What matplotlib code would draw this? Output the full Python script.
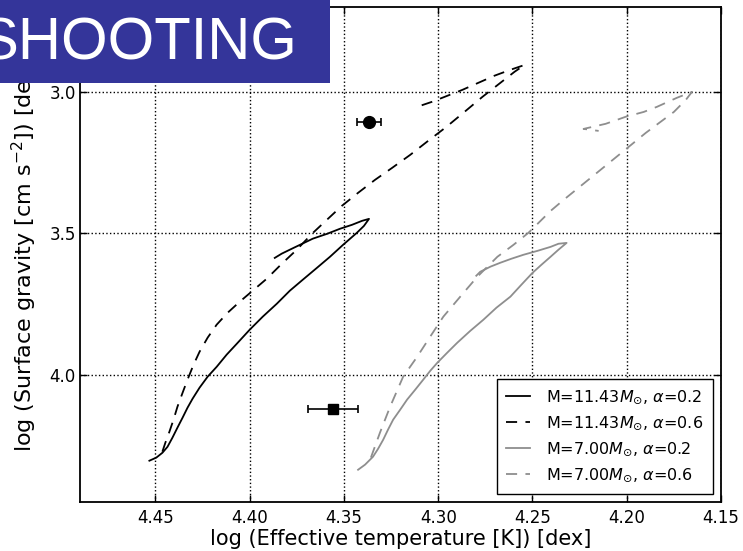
import numpy as np
import matplotlib
matplotlib.use('Agg')
import matplotlib.pyplot as plt
from matplotlib.patches import Rectangle

# track data, log Teff / log g
# M=11.43, alpha=0.2
teff_m11_a02 = [4.4532, 4.4495, 4.4463, 4.4436, 4.4410, 4.4383, 4.4356, 4.4330, 4.4303,
                4.4266, 4.4223, 4.4175, 4.4122, 4.4069, 4.4000, 4.3931, 4.3856, 4.3787,
                4.3718, 4.3643, 4.3574, 4.3505, 4.3431, 4.3394, 4.3367, 4.3404, 4.3457,
                4.3521, 4.3590, 4.3665, 4.3734, 4.3787, 4.3830, 4.3867]
logg_m11_a02 = [4.304, 4.293, 4.276, 4.255, 4.223, 4.187, 4.152, 4.117, 4.085,
                4.046, 4.007, 3.972, 3.929, 3.891, 3.841, 3.795, 3.749, 3.703,
                3.664, 3.622, 3.583, 3.541, 3.498, 3.474, 3.449, 3.456, 3.470,
                3.484, 3.502, 3.519, 3.541, 3.558, 3.572, 3.587]

# M=11.43, alpha=0.6
teff_m11_a06 = [4.4463, 4.4447, 4.4426, 4.4404, 4.4383, 4.4356, 4.4330, 4.4298, 4.4266,
                4.4223, 4.4175, 4.4117, 4.4053, 4.3984, 4.3910, 4.3830, 4.3750, 4.3670,
                4.3590, 4.3511, 4.3425, 4.3335, 4.3245, 4.3149, 4.3053, 4.2957, 4.2861,
                4.2766, 4.2670, 4.2595, 4.2542, 4.2617, 4.2702, 4.2787, 4.2872, 4.2952,
                4.3032, 4.3112]
logg_m11_a06 = [4.272, 4.240, 4.202, 4.159, 4.113, 4.064, 4.018, 3.965, 3.919,
                3.869, 3.823, 3.781, 3.742, 3.703, 3.661, 3.608, 3.558, 3.502,
                3.452, 3.403, 3.357, 3.311, 3.269, 3.223, 3.173, 3.124, 3.071,
                3.018, 2.968, 2.929, 2.905, 2.922, 2.943, 2.968, 2.993, 3.014,
                3.035, 3.053]

# M=7.00, alpha=0.2
teff_m7_a02 = [4.3425, 4.3388, 4.3346, 4.3319, 4.3292, 4.3266, 4.3239, 4.3202, 4.3165,
               4.3122, 4.3080, 4.3042, 4.3005, 4.2952, 4.2899, 4.2830, 4.2761, 4.2691,
               4.2617, 4.2559, 4.2500, 4.2452, 4.2404, 4.2362, 4.2319, 4.2362, 4.2404,
               4.2473, 4.2548, 4.2612, 4.2670, 4.2723, 4.2777, 4.2798]
logg_m7_a02 = [4.336, 4.318, 4.290, 4.262, 4.230, 4.194, 4.159, 4.124, 4.088,
               4.053, 4.018, 3.986, 3.958, 3.922, 3.887, 3.845, 3.806, 3.763,
               3.724, 3.682, 3.640, 3.611, 3.583, 3.558, 3.534, 3.537, 3.548,
               3.562, 3.576, 3.590, 3.604, 3.618, 3.636, 3.650]

# M=7.00, alpha=0.6
teff_m7_a06 = [4.3357, 4.3309, 4.3255, 4.3186, 4.3112, 4.3043, 4.2973, 4.2883, 4.2793,
               4.2686, 4.2601, 4.2521, 4.2457, 4.2404, 4.2335, 4.2191, 4.2042, 4.1899,
               4.1750, 4.1686, 4.1654, 4.1734, 4.1840, 4.1910, 4.2005, 4.2112, 4.2229,
               4.2149]
logg_m7_a06 = [4.293, 4.205, 4.113, 4.007, 3.937, 3.866, 3.795, 3.724, 3.654,
               3.583, 3.541, 3.498, 3.456, 3.421, 3.382, 3.304, 3.223, 3.145,
               3.071, 3.028, 3.000, 3.021, 3.053, 3.071, 3.088, 3.113, 3.131,
               3.138]

# observed stars
obs_teff = [4.3367, 4.356]
obs_teff_err = [0.0064, 0.0133]
obs_logg = [3.106, 4.120]
obs_marker = ['o', 's']
obs_size = [8.5, 6.5]

labels = [r'M=11.43$M_{\odot}$, $\alpha$=0.2', r'M=11.43$M_{\odot}$, $\alpha$=0.6',
          r'M=7.00$M_{\odot}$, $\alpha$=0.2', r'M=7.00$M_{\odot}$, $\alpha$=0.6']

plt.rcParams['font.family'] = ['DejaVu Sans']
plt.rcParams['lines.scale_dashes'] = False

fig = plt.figure(figsize=(7.43, 5.51), dpi=100)
ax = fig.add_axes([80/743, 49/551, 641/743, 495/551])

gray = '#8e8e8e'
dash = (0, (8, 6))
ax.plot(teff_m11_a02, logg_m11_a02, color='k', lw=1.3, label=labels[0])
ax.plot(teff_m11_a06, logg_m11_a06, color='k', lw=1.3, ls=dash, label=labels[1])
ax.plot(teff_m7_a02, logg_m7_a02, color=gray, lw=1.3, label=labels[2])
ax.plot(teff_m7_a06, logg_m7_a06, color=gray, lw=1.3, ls=dash, label=labels[3])

for i in range(len(obs_teff)):
    ax.errorbar(obs_teff[i], obs_logg[i], xerr=obs_teff_err[i], fmt=obs_marker[i],
                color='k', ms=obs_size[i], capsize=3, elinewidth=1.2, capthick=1.2)

ax.set_xlim(4.49, 4.15)
ax.set_ylim(4.45, 2.70)
ax.set_xticks([4.45, 4.40, 4.35, 4.30, 4.25, 4.20, 4.15])
ax.set_yticks([3.0, 3.5, 4.0])
ax.xaxis.set_major_formatter(matplotlib.ticker.FormatStrFormatter('%.2f'))
ax.yaxis.set_major_formatter(matplotlib.ticker.FormatStrFormatter('%.1f'))
ax.tick_params(direction='in', top=True, right=True, length=5, width=1, labelsize=12)
ax.tick_params(axis='x', pad=5)
ax.tick_params(axis='y', pad=3)
for s in ax.spines.values():
    s.set_linewidth(1.3)
ax.grid(True, color='k', ls=':', lw=1.0)

ax.set_xlabel('log (Effective temperature [K]) [dex]', fontsize=15)
ax.set_ylabel(r'log (Surface gravity [cm s$^{-2}$]) [dex]', fontsize=16)
ax.yaxis.set_label_coords(-0.064, 0.5)
ax.xaxis.set_label_coords(0.5, -0.0545)

leg = ax.legend(loc='lower right', fontsize=11.5, fancybox=False, framealpha=1,
                edgecolor='k', handlelength=1.5, handletextpad=1.0, borderpad=0.6)
leg.get_frame().set_linewidth(1.0)

# banner on top
fig.patches.append(Rectangle((0, 1 - 83/551), 330/743, 83/551, transform=fig.transFigure,
                             facecolor='#34359a', edgecolor='none', zorder=10))
fig.text(297/743, 1 - 60/551, 'SHOOTING', color='white', fontsize=43,
         family='Liberation Sans', ha='right', va='baseline', zorder=11)

fig.savefig('out.png', dpi=100)
